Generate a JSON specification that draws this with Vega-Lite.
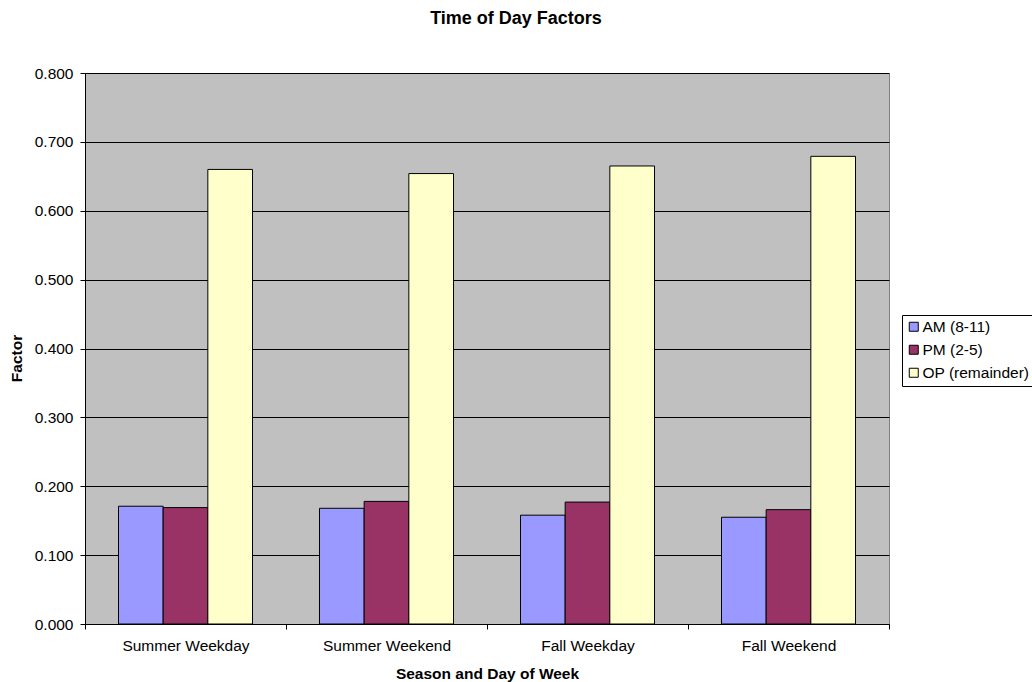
{
  "$schema": "https://vega.github.io/schema/vega-lite/v6.json",
  "width": 804,
  "height": 551,
  "autosize": "none",
  "padding": {"left": 85, "top": 73, "right": 143, "bottom": 58},
  "background": "white",
  "config": {
    "font": "Liberation Sans",
    "view": {"fill": "#C0C0C0", "stroke": "#808080", "strokeWidth": 1}
  },
  "title": {
    "text": "Time of Day Factors",
    "fontSize": 18,
    "fontWeight": "bold",
    "color": "black",
    "anchor": "middle",
    "dx": 29,
    "offset": 38
  },
  "data": {
    "values": [
      {"group": "Summer Weekday", "period": "AM (8-11)", "factor": 0.171},
      {"group": "Summer Weekday", "period": "PM (2-5)", "factor": 0.169},
      {"group": "Summer Weekday", "period": "OP (remainder)", "factor": 0.660},
      {"group": "Summer Weekend", "period": "AM (8-11)", "factor": 0.168},
      {"group": "Summer Weekend", "period": "PM (2-5)", "factor": 0.178},
      {"group": "Summer Weekend", "period": "OP (remainder)", "factor": 0.654},
      {"group": "Fall Weekday", "period": "AM (8-11)", "factor": 0.158},
      {"group": "Fall Weekday", "period": "PM (2-5)", "factor": 0.177},
      {"group": "Fall Weekday", "period": "OP (remainder)", "factor": 0.665},
      {"group": "Fall Weekend", "period": "AM (8-11)", "factor": 0.155},
      {"group": "Fall Weekend", "period": "PM (2-5)", "factor": 0.166},
      {"group": "Fall Weekend", "period": "OP (remainder)", "factor": 0.679}
    ]
  },
  "mark": {"type": "bar", "stroke": "black", "strokeWidth": 1},
  "encoding": {
    "x": {
      "field": "group",
      "type": "nominal",
      "sort": ["Summer Weekday", "Summer Weekend", "Fall Weekday", "Fall Weekend"],
      "scale": {"paddingInner": 0, "paddingOuter": 0},
      "axis": {
        "title": "Season and Day of Week",
        "titleFontSize": 15.5,
        "titleFontWeight": "bold",
        "titleColor": "black",
        "titlePadding": 13,
        "labelAngle": 0,
        "labelFontSize": 15.5,
        "labelColor": "black",
        "labelPadding": 9,
        "domainColor": "black",
        "tickColor": "black",
        "tickSize": 5,
        "tickBand": "extent",
        "grid": false
      }
    },
    "xOffset": {
      "field": "period",
      "type": "nominal",
      "sort": ["AM (8-11)", "PM (2-5)", "OP (remainder)"],
      "scale": {"paddingInner": 0, "paddingOuter": 0.75}
    },
    "y": {
      "field": "factor",
      "type": "quantitative",
      "scale": {"domain": [0, 0.8], "nice": false},
      "axis": {
        "title": "Factor",
        "titleFontSize": 15.5,
        "titleFontWeight": "bold",
        "titleColor": "black",
        "titleX": -61,
        "titleY": 285,
        "values": [0, 0.1, 0.2, 0.3, 0.4, 0.5, 0.6, 0.7, 0.8],
        "format": ".3f",
        "labelFontSize": 15.5,
        "labelColor": "black",
        "labelPadding": 7,
        "domainColor": "black",
        "tickColor": "black",
        "tickSize": 5,
        "grid": true,
        "gridColor": "black",
        "gridWidth": 1
      }
    },
    "color": {
      "field": "period",
      "type": "nominal",
      "sort": ["AM (8-11)", "PM (2-5)", "OP (remainder)"],
      "scale": {
        "domain": ["AM (8-11)", "PM (2-5)", "OP (remainder)"],
        "range": ["#9999FF", "#993366", "#FFFFCC"]
      },
      "legend": {
        "title": null,
        "orient": "none",
        "legendX": 817,
        "legendY": 242,
        "symbolType": "square",
        "symbolSize": 81,
        "symbolStrokeColor": "black",
        "symbolStrokeWidth": 1,
        "labelFontSize": 15.5,
        "labelColor": "black",
        "labelOffset": 1,
        "rowPadding": 6,
        "padding": 4,
        "strokeColor": "black",
        "fillColor": "white"
      }
    }
  }
}
